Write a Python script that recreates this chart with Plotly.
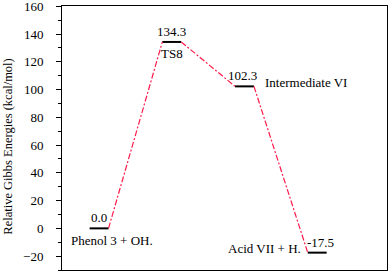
import plotly.graph_objects as go

# Data
states = ["Phenol 3 + OH.", "TS8", "Intermediate VI", "Acid VII + H."]
energies = [0.0, 134.3, 102.3, -17.5]
positions = [1, 2, 3, 4]
value_labels = ["0.0", "134.3", "102.3", "-17.5"]
y_ticks = [-20, 0, 20, 40, 60, 80, 100, 120, 140, 160]

HALF = 0.13
FONT = "'Liberation Serif', 'DejaVu Serif', serif"
RED = "#ff1a4b"

fig = go.Figure()

# level segments
for x, e in zip(positions, energies):
    fig.add_trace(go.Scatter(x=[x - HALF, x + HALF], y=[e, e], mode="lines",
                             line=dict(color="black", width=2), showlegend=False,
                             hoverinfo="skip"))
# connectors
for i in range(len(positions) - 1):
    fig.add_trace(go.Scatter(x=[positions[i] + HALF, positions[i + 1] - HALF],
                             y=[energies[i], energies[i + 1]], mode="lines",
                             line=dict(color=RED, width=1.2, dash="6px,2px,2px,2px"),
                             showlegend=False, hoverinfo="skip"))

ann = []
fs = 13
tf = dict(size=fs, family=FONT, color="black")
# value labels
val_x = [1.0, 2.0, 2.97, 4.04]
for vx, e, t in zip(val_x, energies, value_labels):
    ann.append(dict(x=vx, y=e, text=t, showarrow=False, xanchor="center",
                    yanchor="bottom", yshift=1, font=tf))
# state names
ann.append(dict(x=1.18, y=energies[0], text=states[0], showarrow=False, xanchor="center",
                yanchor="top", yshift=-3, font=tf))
ann.append(dict(x=2.0, y=energies[1], text=states[1], showarrow=False, xanchor="center",
                yanchor="top", yshift=-2, font=tf))
ann.append(dict(x=3.257, y=energies[2], text=states[2], showarrow=False, xanchor="left",
                yanchor="middle", yshift=4, font=tf))
ann.append(dict(x=3.807, y=energies[3], text=states[3], showarrow=False, xanchor="right",
                yanchor="middle", yshift=4, font=tf))
# y-axis title
ann.append(dict(xref="paper", yref="paper", x=-0.167, y=0.466, textangle=-90,
                text="Relative Gibbs Energies (kcal/mol)", showarrow=False,
                xanchor="center", yanchor="middle", font=dict(size=12.5, family=FONT, color="black")))

fig.update_layout(
    width=392, height=273,
    margin=dict(l=62, r=5, t=6, b=3, autoexpand=False),
    paper_bgcolor="white", plot_bgcolor="white",
    annotations=ann,
    font=dict(family=FONT, size=12, color="black"),
    xaxis=dict(range=[0.49, 4.96], showticklabels=False, ticks="", showgrid=False,
               zeroline=False, showline=True, linecolor="black", linewidth=1, mirror=True,
               automargin=False),
    yaxis=dict(range=[-30, 160.2], tickvals=y_ticks, ticks="outside", ticklen=5,
               tickcolor="black", showgrid=False, zeroline=False, showline=True,
               linecolor="black", linewidth=1, mirror=True, automargin=False,
               ticklabeloverflow="allow", ticklabelstandoff=10,
               tickfont=dict(size=13, family=FONT, color="black"),
               minor=dict(dtick=10, tick0=0, ticks="outside", ticklen=3, tickcolor="black")),
)

fig.write_html("out.html", config={"displayModeBar": False},
               post_script="document.body.style.margin='0';")
